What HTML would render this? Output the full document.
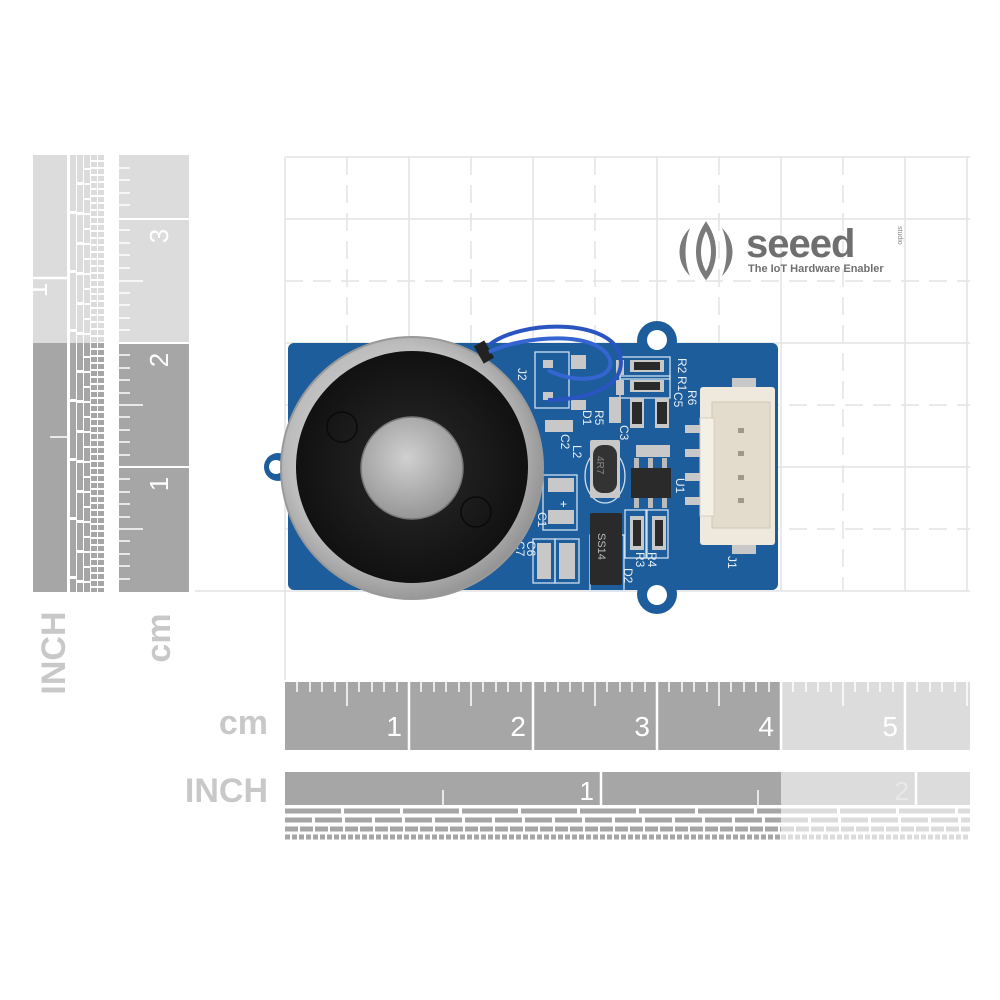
<!DOCTYPE html>
<html><head><meta charset="utf-8"><style>
html,body{margin:0;padding:0;background:#fff;width:1000px;height:1000px;overflow:hidden}
svg{display:block}
</style></head><body>
<svg width="1000" height="1000" viewBox="0 0 1000 1000" xmlns="http://www.w3.org/2000/svg" font-family="Liberation Sans, sans-serif">
<defs>
<radialGradient id="ring" cx="0.45" cy="0.45" r="0.6"><stop offset="0" stop-color="#e8e8e8"/><stop offset="0.7" stop-color="#bdbdbd"/><stop offset="1" stop-color="#8a8a8a"/></radialGradient>
<radialGradient id="slug" cx="0.45" cy="0.4" r="0.7"><stop offset="0" stop-color="#d0d0d0"/><stop offset="1" stop-color="#8d8d8d"/></radialGradient>
<radialGradient id="blk" cx="0.5" cy="0.5" r="0.5"><stop offset="0" stop-color="#2a2a2a"/><stop offset="1" stop-color="#111"/></radialGradient>
</defs>
<rect width="1000" height="1000" fill="#fff"/>
<g stroke="#e4e4e4" stroke-width="1.5">
<line x1="285" y1="157" x2="970" y2="157"/><line x1="285" y1="219" x2="970" y2="219"/>
<line x1="285" y1="281" x2="970" y2="281" stroke-dasharray="18 10"/><line x1="285" y1="343" x2="970" y2="343"/>
<line x1="285" y1="405" x2="970" y2="405" stroke-dasharray="18 10"/><line x1="285" y1="467" x2="970" y2="467"/>
<line x1="285" y1="529" x2="970" y2="529" stroke-dasharray="18 10"/><line x1="195" y1="591" x2="970" y2="591"/>
<line x1="285" y1="157" x2="285" y2="680"/><line x1="347" y1="157" x2="347" y2="591" stroke-dasharray="18 10"/>
<line x1="409" y1="157" x2="409" y2="591"/><line x1="471" y1="157" x2="471" y2="591" stroke-dasharray="18 10"/>
<line x1="533" y1="157" x2="533" y2="591"/><line x1="595" y1="157" x2="595" y2="591" stroke-dasharray="18 10"/>
<line x1="657" y1="157" x2="657" y2="591"/><line x1="719" y1="157" x2="719" y2="591" stroke-dasharray="18 10"/>
<line x1="781" y1="157" x2="781" y2="591"/><line x1="843" y1="157" x2="843" y2="591" stroke-dasharray="18 10"/>
<line x1="905" y1="157" x2="905" y2="591"/><line x1="967" y1="157" x2="967" y2="591"/>
</g>
<g fill="#7a7a7a">
<path d="M690 228 C676 242 676 262 690 276 C684 262 684 242 690 228Z"/>
<path d="M706 226 C696 242 696 262 706 276 C716 262 716 242 706 226Z" fill="none" stroke="#7a7a7a" stroke-width="5"/>
<path d="M722 228 C736 242 736 262 722 276 C728 262 728 242 722 228Z"/>
<text x="746" y="257" font-size="40" font-weight="bold" fill="#6f6f6f" letter-spacing="-1">seeed</text>
<text x="748" y="272" font-size="11" font-weight="bold" fill="#6f6f6f">The IoT Hardware Enabler</text>
<text x="898" y="226" font-size="7" fill="#888" transform="rotate(90 898 226)">studio</text>
</g>
<!-- left INCH ruler -->
<rect x="33" y="155" width="34" height="188" fill="#dcdcdc"/>
<rect x="33" y="343" width="34" height="249" fill="#a6a6a6"/>
<line x1="33" y1="278" x2="67" y2="278" stroke="#fff" stroke-width="2.5"/>
<line x1="50" y1="437" x2="67" y2="437" stroke="#fff" stroke-width="1.5"/>
<g stroke-width="6">
<line x1="73" y1="155" x2="73" y2="343" stroke="#dcdcdc" stroke-dasharray="56 3"/>
<line x1="80" y1="155" x2="80" y2="343" stroke="#dcdcdc" stroke-dasharray="27 3"/>
<line x1="87" y1="155" x2="87" y2="343" stroke="#dcdcdc" stroke-dasharray="13 2"/>
<line x1="94" y1="155" x2="94" y2="343" stroke="#dcdcdc" stroke-dasharray="5 2"/>
<line x1="101" y1="155" x2="101" y2="343" stroke="#dcdcdc" stroke-dasharray="5 2"/>
<line x1="73" y1="343" x2="73" y2="592" stroke="#a6a6a6" stroke-dasharray="56 3"/>
<line x1="80" y1="343" x2="80" y2="592" stroke="#a6a6a6" stroke-dasharray="27 3"/>
<line x1="87" y1="343" x2="87" y2="592" stroke="#a6a6a6" stroke-dasharray="13 2"/>
<line x1="94" y1="343" x2="94" y2="592" stroke="#a6a6a6" stroke-dasharray="5 2"/>
<line x1="101" y1="343" x2="101" y2="592" stroke="#a6a6a6" stroke-dasharray="5 2"/>
</g>
<text x="47" y="290" font-size="26" fill="#fff" transform="rotate(-90 47 290)" text-anchor="middle">1</text>
<!-- left cm ruler -->
<rect x="119" y="155" width="70" height="188" fill="#dcdcdc"/>
<rect x="119" y="343" width="70" height="249" fill="#a6a6a6"/>
<g stroke="#fff" stroke-width="2">
<line x1="119" y1="219" x2="189" y2="219"/><line x1="119" y1="343" x2="189" y2="343"/><line x1="119" y1="467" x2="189" y2="467"/>
</g>
<g stroke="#fff" stroke-width="1.5">
<line x1="119" y1="168" x2="130" y2="168"/><line x1="119" y1="180" x2="130" y2="180"/><line x1="119" y1="193" x2="130" y2="193"/><line x1="119" y1="205" x2="130" y2="205"/>
<line x1="119" y1="230" x2="130" y2="230"/><line x1="119" y1="243" x2="130" y2="243"/><line x1="119" y1="255" x2="130" y2="255"/><line x1="119" y1="268" x2="130" y2="268"/><line x1="119" y1="281" x2="143" y2="281"/>
<line x1="119" y1="293" x2="130" y2="293"/><line x1="119" y1="305" x2="130" y2="305"/><line x1="119" y1="318" x2="130" y2="318"/><line x1="119" y1="330" x2="130" y2="330"/>
<line x1="119" y1="355" x2="130" y2="355"/><line x1="119" y1="368" x2="130" y2="368"/><line x1="119" y1="380" x2="130" y2="380"/><line x1="119" y1="393" x2="130" y2="393"/><line x1="119" y1="405" x2="143" y2="405"/>
<line x1="119" y1="417" x2="130" y2="417"/><line x1="119" y1="430" x2="130" y2="430"/><line x1="119" y1="442" x2="130" y2="442"/><line x1="119" y1="455" x2="130" y2="455"/>
<line x1="119" y1="479" x2="130" y2="479"/><line x1="119" y1="492" x2="130" y2="492"/><line x1="119" y1="504" x2="130" y2="504"/><line x1="119" y1="517" x2="130" y2="517"/><line x1="119" y1="529" x2="143" y2="529"/>
<line x1="119" y1="541" x2="130" y2="541"/><line x1="119" y1="554" x2="130" y2="554"/><line x1="119" y1="566" x2="130" y2="566"/><line x1="119" y1="579" x2="130" y2="579"/>
</g>
<g font-size="26" fill="#fff" text-anchor="middle">
<text x="168" y="236" transform="rotate(-90 168 236)">3</text>
<text x="168" y="360" transform="rotate(-90 168 360)">2</text>
<text x="168" y="484" transform="rotate(-90 168 484)">1</text>
</g>
<g font-size="34" font-weight="bold" fill="#c8c8c8">
<text x="65" y="653" transform="rotate(-90 65 653)" text-anchor="middle">INCH</text>
<text x="170" y="638" transform="rotate(-90 170 638)" text-anchor="middle">cm</text>
<text x="268" y="734" text-anchor="end">cm</text>
<text x="268" y="802" text-anchor="end">INCH</text>
</g>
<rect x="285" y="682" width="496" height="68" fill="#a6a6a6"/>
<rect x="781" y="682" width="189" height="68" fill="#dcdcdc"/>
<g stroke="#fff" stroke-width="2.5"><line x1="409" y1="682" x2="409" y2="750"/><line x1="533" y1="682" x2="533" y2="750"/><line x1="657" y1="682" x2="657" y2="750"/><line x1="781" y1="682" x2="781" y2="750"/><line x1="905" y1="682" x2="905" y2="750"/></g>
<g stroke="#fff" stroke-width="1.5">
<path d="M297 682v10M310 682v10M322 682v10M335 682v10M347 682v24M359 682v10M372 682v10M384 682v10M397 682v10
M421 682v10M434 682v10M446 682v10M459 682v10M471 682v24M483 682v10M496 682v10M508 682v10M521 682v10
M545 682v10M558 682v10M570 682v10M583 682v10M595 682v24M607 682v10M620 682v10M632 682v10M645 682v10
M669 682v10M682 682v10M694 682v10M707 682v10M719 682v24M731 682v10M744 682v10M756 682v10M769 682v10
M793 682v10M806 682v10M818 682v10M831 682v10M843 682v24M855 682v10M868 682v10M880 682v10M893 682v10
M917 682v10M930 682v10M942 682v10M955 682v10M967 682v24"/>
</g>
<g font-size="28" fill="#fff" text-anchor="end">
<text x="402" y="736">1</text><text x="526" y="736">2</text><text x="650" y="736">3</text><text x="774" y="736">4</text><text x="898" y="736">5</text>
</g>
<rect x="285" y="772" width="496" height="33" fill="#a6a6a6"/>
<rect x="781" y="772" width="189" height="33" fill="#dcdcdc"/>
<line x1="601" y1="772" x2="601" y2="805" stroke="#fff" stroke-width="2.5"/>
<line x1="916" y1="772" x2="916" y2="805" stroke="#fff" stroke-width="2.5"/>
<line x1="443" y1="790" x2="443" y2="812" stroke="#fff" stroke-width="1.5"/>
<line x1="758" y1="790" x2="758" y2="812" stroke="#fff" stroke-width="1.5"/>
<text x="594" y="800" font-size="26" fill="#fff" text-anchor="end">1</text>
<text x="909" y="800" font-size="26" fill="#e8e8e8" text-anchor="end">2</text>
<g stroke-width="5">
<line x1="285" y1="811" x2="781" y2="811" stroke="#a6a6a6" stroke-dasharray="56 3"/>
<line x1="285" y1="820" x2="781" y2="820" stroke="#a6a6a6" stroke-dasharray="27 3"/>
<line x1="285" y1="829" x2="781" y2="829" stroke="#a6a6a6" stroke-dasharray="13 2"/>
<line x1="285" y1="837" x2="781" y2="837" stroke="#a6a6a6" stroke-dasharray="5 2"/>
<line x1="781" y1="811" x2="970" y2="811" stroke="#dcdcdc" stroke-dasharray="56 3"/>
<line x1="781" y1="820" x2="970" y2="820" stroke="#dcdcdc" stroke-dasharray="27 3"/>
<line x1="781" y1="829" x2="970" y2="829" stroke="#dcdcdc" stroke-dasharray="13 2"/>
<line x1="781" y1="837" x2="970" y2="837" stroke="#dcdcdc" stroke-dasharray="5 2"/>
</g>
<g>
<rect x="288" y="343" width="490" height="247" rx="6" fill="#1d5d9b"/>
<circle cx="657" cy="341" r="20" fill="#1d5d9b"/><circle cx="657" cy="594" r="20" fill="#1d5d9b"/>
<circle cx="278" cy="467" r="14" fill="#1d5d9b"/>
<circle cx="657" cy="340" r="10" fill="#fff"/><circle cx="657" cy="595" r="10" fill="#fff"/>
<circle cx="276" cy="467" r="7" fill="#fff"/>
<g fill="none" stroke="#cfe0f0" stroke-width="1.3">
<rect x="535" y="352" width="34" height="56"/><rect x="543" y="475" width="34" height="55"/>
<rect x="620" y="357" width="50" height="22"/><rect x="620" y="376" width="50" height="22"/>
<rect x="590" y="535" width="34" height="56"/><rect x="625" y="510" width="22" height="48"/><rect x="646" y="510" width="22" height="48"/>
<rect x="533" y="539" width="22" height="44"/><rect x="555" y="539" width="24" height="44"/>
<ellipse cx="605" cy="476" rx="20" ry="27"/>
</g>
<g fill="#c8c8c8">
<rect x="543" y="360" width="10" height="8"/><rect x="543" y="392" width="10" height="8"/>
<rect x="571" y="355" width="15" height="14"/><rect x="571" y="400" width="15" height="10"/>
<rect x="545" y="420" width="28" height="12"/>
<rect x="548" y="478" width="26" height="14"/><rect x="548" y="510" width="26" height="14"/>
<rect x="537" y="543" width="14" height="36"/><rect x="559" y="543" width="16" height="36"/>
<rect x="616" y="360" width="8" height="15"/><rect x="616" y="380" width="8" height="15"/>
<rect x="630" y="360" width="34" height="12"/><rect x="630" y="380" width="34" height="12"/>
<rect x="609" y="397" width="12" height="26"/><rect x="630" y="398" width="14" height="30"/><rect x="655" y="398" width="14" height="30"/>
<rect x="636" y="445" width="34" height="12"/>
<rect x="630" y="516" width="14" height="34"/><rect x="652" y="516" width="14" height="34"/>
<rect x="590" y="440" width="30" height="58" rx="2"/>
<rect x="685" y="425" width="22" height="8"/><rect x="685" y="449" width="22" height="8"/><rect x="685" y="473" width="22" height="8"/><rect x="685" y="497" width="22" height="8"/>
<rect x="732" y="378" width="24" height="12"/><rect x="732" y="542" width="24" height="12"/>
</g>
<g fill="#2a2a2a">
<rect x="634" y="362" width="26" height="8"/><rect x="634" y="382" width="26" height="8"/>
<rect x="632" y="402" width="10" height="22"/><rect x="657" y="402" width="10" height="22"/>
<rect x="633" y="520" width="8" height="26"/><rect x="655" y="520" width="8" height="26"/>
<rect x="593" y="445" width="24" height="48" rx="10" fill="#333"/>
<rect x="631" y="468" width="40" height="30"/>
<rect x="590" y="513" width="32" height="72" rx="2"/>
</g>
<g fill="#bbb"><rect x="634" y="458" width="5" height="10"/><rect x="648" y="458" width="5" height="10"/><rect x="662" y="458" width="5" height="10"/><rect x="634" y="498" width="5" height="10"/><rect x="648" y="498" width="5" height="10"/><rect x="662" y="498" width="5" height="10"/></g>
<text x="598" y="533" font-size="11" fill="#bbb" transform="rotate(90 598 533)">SS14</text>
<text x="597" y="456" font-size="10" fill="#888" transform="rotate(90 597 456)">4R7</text>
<g font-size="12" fill="#e8eef5">
<text x="518" y="368" transform="rotate(90 518 368)">J2</text>
<text x="595" y="410" transform="rotate(90 595 410)">R5</text>
<text x="583" y="410" transform="rotate(90 583 410)">D1</text>
<text x="561" y="434" transform="rotate(90 561 434)">C2</text>
<text x="573" y="445" transform="rotate(90 573 445)">L2</text>
<text x="538" y="512" transform="rotate(90 538 512)">C1</text>
<text x="527" y="541" transform="rotate(90 527 541)">C6</text>
<text x="516" y="541" transform="rotate(90 516 541)">C7</text>
<text x="678" y="358" transform="rotate(90 678 358)">R2</text>
<text x="678" y="376" transform="rotate(90 678 376)">R1</text>
<text x="688" y="390" transform="rotate(90 688 390)">R6</text>
<text x="674" y="392" transform="rotate(90 674 392)">C5</text>
<text x="620" y="425" transform="rotate(90 620 425)">C3</text>
<text x="676" y="478" transform="rotate(90 676 478)">U1</text>
<text x="648" y="552" transform="rotate(90 648 552)">R4</text>
<text x="636" y="552" transform="rotate(90 636 552)">R3</text>
<text x="624" y="568" transform="rotate(90 624 568)">D2</text>
<text x="728" y="556" transform="rotate(90 728 556)">J1</text>
</g>
<text x="560" y="508" font-size="12" fill="#fff">+</text>
<rect x="700" y="387" width="75" height="158" rx="3" fill="#efe8dc"/>
<rect x="712" y="402" width="58" height="126" fill="#e3dccd" stroke="#cfc6b5"/>
<rect x="700" y="418" width="14" height="98" fill="#f5f0e6" stroke="#d6cebd"/>
<g fill="#a09888"><rect x="738" y="428" width="6" height="5"/><rect x="738" y="451" width="6" height="5"/><rect x="738" y="475" width="6" height="5"/><rect x="738" y="498" width="6" height="5"/></g>
<circle cx="412" cy="468" r="131" fill="url(#ring)"/>
<circle cx="412" cy="468" r="131" fill="none" stroke="#999" stroke-width="2"/>
<circle cx="412" cy="467" r="116" fill="url(#blk)"/>
<circle cx="342" cy="427" r="15" fill="none" stroke="#0a0a0a" stroke-width="1.5"/>
<circle cx="476" cy="512" r="15" fill="none" stroke="#0a0a0a" stroke-width="1.5"/>
<circle cx="412" cy="468" r="51" fill="url(#slug)"/>
<circle cx="412" cy="468" r="51" fill="none" stroke="#777" stroke-width="1.5"/>
<rect x="478" y="342" width="12" height="20" fill="#222" transform="rotate(-30 484 352)"/>
<path d="M489 345 C520 320 610 318 620 355 C628 390 580 400 548 400" fill="none" stroke="#2a54c0" stroke-width="4"/>
<path d="M489 352 C525 335 600 330 610 360 C615 380 575 385 548 370" fill="none" stroke="#3565d0" stroke-width="4"/>
</g>
</svg>
</body></html>
